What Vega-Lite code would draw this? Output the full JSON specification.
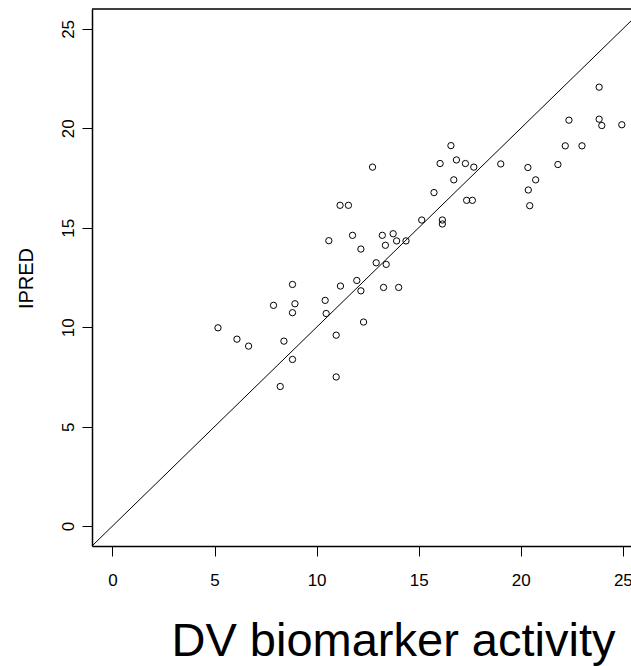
{
  "$schema": "https://vega.github.io/schema/vega-lite/v6.json",
  "width": 539,
  "height": 537,
  "autosize": "none",
  "padding": {"left": 92, "top": 9, "right": 0, "bottom": 120},
  "background": "white",
  "config": {"view": {"stroke": null}, "axis": {"grid": false}},
  "encoding": {
    "x": {
      "field": "DV", "type": "quantitative",
      "scale": {"domain": [-1, 25.4], "nice": false, "zero": false},
      "axis": {
        "values": [0, 5, 10, 15, 20, 25],
        "tickSize": 10, "tickColor": "black", "tickWidth": 1,
        "domainColor": "black", "domainWidth": 1.5,
        "labelFont": "Liberation Sans", "labelFontSize": 17, "labelColor": "black",
        "labelPadding": 29, "labelBaseline": "alphabetic",
        "title": "DV biomarker activity",
        "titleFont": "Liberation Sans", "titleFontSize": 47, "titleFontWeight": "normal",
        "titleColor": "black", "titleX": 301, "titleY": 109,
        "titleAlign": "center", "titleBaseline": "alphabetic"
      }
    },
    "y": {
      "field": "IPRED", "type": "quantitative",
      "scale": {"domain": [-1, 26], "nice": false, "zero": false},
      "axis": {
        "values": [0, 5, 10, 15, 20, 25],
        "tickSize": 10, "tickColor": "black", "tickWidth": 1,
        "domainColor": "black", "domainWidth": 1.5,
        "labelFont": "Liberation Sans", "labelFontSize": 17, "labelColor": "black",
        "labelAngle": -90, "labelAlign": "center", "labelBaseline": "alphabetic",
        "labelPadding": 9,
        "title": "IPRED",
        "titleFont": "Liberation Sans", "titleFontSize": 20, "titleFontWeight": "normal",
        "titleColor": "black", "titleAngle": -90, "titleX": -60, "titleY": 269,
        "titleAlign": "center", "titleBaseline": "alphabetic"
      }
    }
  },
  "layer": [
    {
      "data": {"values": [{"DV": -1, "IPRED": -1}, {"DV": 26, "IPRED": 26}]},
      "mark": {"type": "line", "color": "black", "strokeWidth": 1, "clip": true}
    },
    {
      "data": {"values": [{"top": 26}]},
      "mark": {"type": "rule", "color": "black", "strokeWidth": 1.5},
      "encoding": {"y": {"field": "top", "type": "quantitative"}, "x": null}
    },
    {
      "data": {"values": [
        {"DV": 5.17, "IPRED": 9.97},
        {"DV": 6.10, "IPRED": 9.40},
        {"DV": 6.67, "IPRED": 9.05},
        {"DV": 7.89, "IPRED": 11.10},
        {"DV": 8.82, "IPRED": 12.15},
        {"DV": 8.94, "IPRED": 11.18},
        {"DV": 8.82, "IPRED": 10.73},
        {"DV": 8.40, "IPRED": 9.30},
        {"DV": 8.82, "IPRED": 8.38},
        {"DV": 8.22, "IPRED": 7.02},
        {"DV": 11.17, "IPRED": 12.07},
        {"DV": 10.42, "IPRED": 11.35},
        {"DV": 10.47, "IPRED": 10.69},
        {"DV": 11.97, "IPRED": 12.35},
        {"DV": 12.17, "IPRED": 11.83},
        {"DV": 12.30, "IPRED": 10.26},
        {"DV": 10.96, "IPRED": 9.60},
        {"DV": 10.96, "IPRED": 7.50},
        {"DV": 16.58, "IPRED": 19.13},
        {"DV": 16.05, "IPRED": 18.23},
        {"DV": 16.85, "IPRED": 18.41},
        {"DV": 17.29, "IPRED": 18.23},
        {"DV": 17.70, "IPRED": 18.05},
        {"DV": 16.72, "IPRED": 17.41},
        {"DV": 12.74, "IPRED": 18.05},
        {"DV": 15.75, "IPRED": 16.77},
        {"DV": 11.15, "IPRED": 16.13},
        {"DV": 11.56, "IPRED": 16.13},
        {"DV": 17.35, "IPRED": 16.38},
        {"DV": 17.63, "IPRED": 16.38},
        {"DV": 15.15, "IPRED": 15.39},
        {"DV": 16.16, "IPRED": 15.39},
        {"DV": 16.16, "IPRED": 15.19},
        {"DV": 10.60, "IPRED": 14.35},
        {"DV": 11.76, "IPRED": 14.62},
        {"DV": 12.17, "IPRED": 13.93},
        {"DV": 13.22, "IPRED": 14.62},
        {"DV": 13.75, "IPRED": 14.70},
        {"DV": 13.37, "IPRED": 14.12},
        {"DV": 13.92, "IPRED": 14.34},
        {"DV": 14.38, "IPRED": 14.34},
        {"DV": 12.92, "IPRED": 13.24},
        {"DV": 13.41, "IPRED": 13.16},
        {"DV": 13.28, "IPRED": 12.00},
        {"DV": 14.02, "IPRED": 12.00},
        {"DV": 23.84, "IPRED": 22.07},
        {"DV": 22.36, "IPRED": 20.41},
        {"DV": 23.84, "IPRED": 20.46},
        {"DV": 23.97, "IPRED": 20.14},
        {"DV": 24.95, "IPRED": 20.18},
        {"DV": 22.18, "IPRED": 19.12},
        {"DV": 23.00, "IPRED": 19.12},
        {"DV": 21.82, "IPRED": 18.18},
        {"DV": 19.02, "IPRED": 18.21},
        {"DV": 20.35, "IPRED": 18.03},
        {"DV": 20.73, "IPRED": 17.41},
        {"DV": 20.37, "IPRED": 16.90},
        {"DV": 20.44, "IPRED": 16.11}
      ]},
      "mark": {"type": "point", "shape": "circle", "filled": false, "color": "black", "size": 40, "strokeWidth": 1, "opacity": 1}
    }
  ]
}
